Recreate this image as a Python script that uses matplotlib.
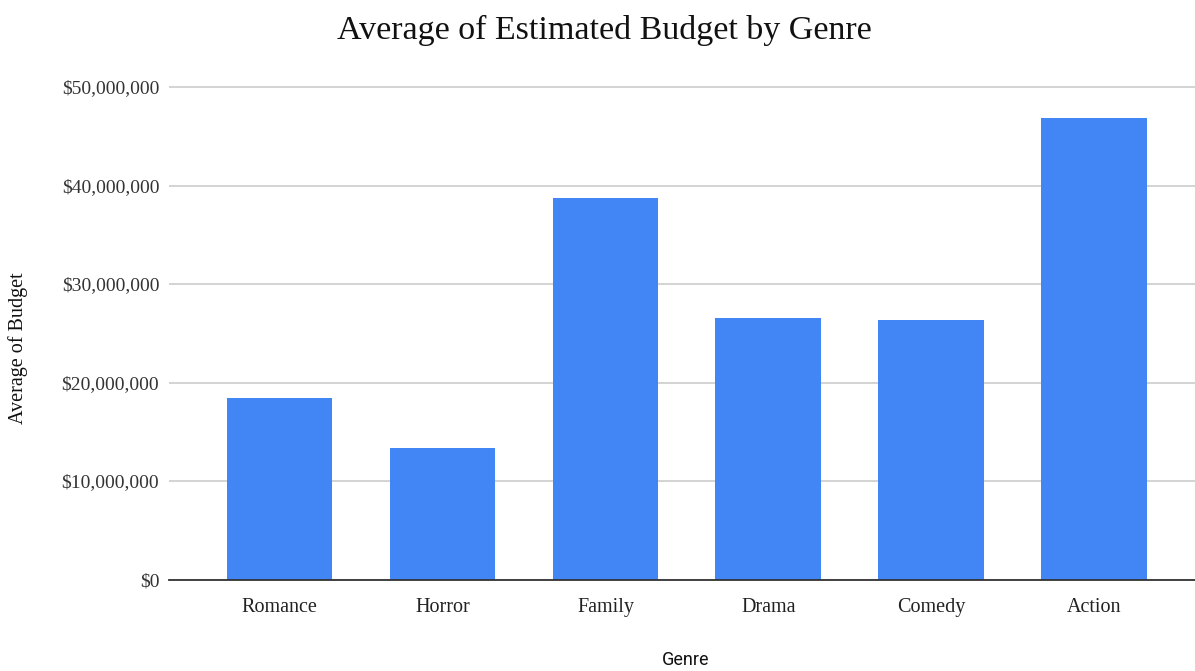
import matplotlib.pyplot as plt
from matplotlib.ticker import FuncFormatter

# data
genres = ['Romance', 'Horror', 'Family', 'Drama', 'Comedy', 'Action']
avg_budget = [18.4e6, 13.4e6, 38.75e6, 26.55e6, 26.35e6, 46.85e6]
y_ticks = [0, 10e6, 20e6, 30e6, 40e6, 50e6]

serif = ['Liberation Serif', 'DejaVu Serif']

fig = plt.figure(figsize=(11.95, 6.71), dpi=100)
# y range padded a little so the 50M gridline isn't clipped
top_px = 80
ymax = 50e6 * (579.5 - top_px) / (579.5 - 87)
ax = fig.add_axes([169 / 1195, 1 - 579.5 / 671, 1 - 169 / 1195, (579.5 - top_px) / 671])

x = range(len(genres))
ax.bar(x, avg_budget, width=0.65, color='#4285F4', zorder=3)

ax.set_xlim(-0.678, 5.617)
ax.set_ylim(0, ymax)
ax.set_yticks(y_ticks)
ax.yaxis.set_major_formatter(FuncFormatter(lambda v, p: f'${v:,.0f}'))
ax.set_xticks(list(x))
ax.set_xticklabels(genres)

for lbl in ax.get_yticklabels():
    lbl.set_family(serif)
    lbl.set_fontsize(14)
    lbl.set_color('#333333')
for lbl in ax.get_xticklabels():
    lbl.set_family(serif)
    lbl.set_fontsize(14.5)
    lbl.set_color('#222222')

ax.tick_params(axis='both', length=0)
ax.tick_params(axis='y', pad=7)
ax.tick_params(axis='x', pad=13)

ax.grid(axis='y', color='#cccccc', linewidth=1.2, zorder=0)
for s in ['top', 'right', 'left']:
    ax.spines[s].set_visible(False)
ax.spines['bottom'].set_color('#333333')
ax.spines['bottom'].set_linewidth(1.3)
ax.spines['bottom'].set_zorder(4)

fig.text(604 / 1195, 1 - 30 / 671, 'Average of Estimated Budget by Genre', ha='center', va='center',
         family=serif, fontsize=24.5, color='#111111')
fig.text(18 / 1195, 1 - 348 / 671, 'Average of Budget', rotation=90, ha='center', va='center',
         family=serif, fontsize=14.5, color='#111111')
fig.text(686 / 1195, 1 - 660 / 671, 'Genre', ha='center', va='center',
         family=['Roboto', 'DejaVu Sans'], fontsize=13, color='#111111')

fig.savefig('out.png', dpi=100)
